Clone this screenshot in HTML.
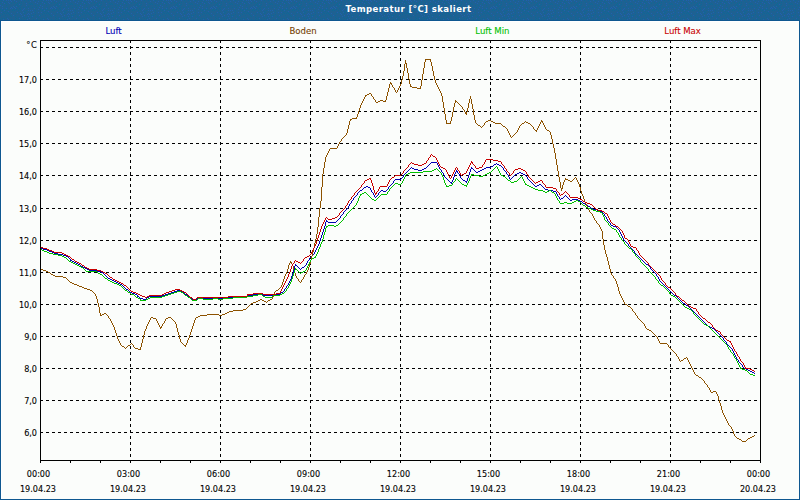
<!DOCTYPE html>
<html><head><meta charset="utf-8"><title>Temperatur [°C] skaliert</title>
<style>
html,body{margin:0;padding:0;width:800px;height:500px;overflow:hidden;background:#fbfdfb}
svg{display:block}
.t{font-family:"DejaVu Sans Condensed","Liberation Sans",sans-serif;font-size:9px;stroke-width:0.1px;paint-order:stroke}
.yl{text-anchor:end}
.xl{text-anchor:middle}
</style></head><body>
<svg width="800" height="500" viewBox="0 0 800 500">
<rect x="0" y="0" width="800" height="500" fill="#fbfdfb"/>
<!-- header -->
<defs><pattern id="dith" x="0" y="0" width="40" height="20" patternUnits="userSpaceOnUse"><rect width="40" height="20" fill="#1e6192"/><rect x="1" y="0" width="1" height="1" fill="#0c6898"/><rect x="3" y="0" width="1" height="1" fill="#2060b0"/><rect x="6" y="0" width="1" height="1" fill="#2060b0"/><rect x="8" y="0" width="1" height="1" fill="#2060b0"/><rect x="10" y="0" width="1" height="1" fill="#2060b0"/><rect x="14" y="0" width="1" height="1" fill="#2060b0"/><rect x="21" y="0" width="1" height="1" fill="#2060b0"/><rect x="24" y="0" width="1" height="1" fill="#0c6898"/><rect x="28" y="0" width="1" height="1" fill="#0c6898"/><rect x="33" y="0" width="1" height="1" fill="#2060b0"/><rect x="35" y="0" width="1" height="1" fill="#0c6898"/><rect x="4" y="1" width="1" height="1" fill="#0c6898"/><rect x="11" y="1" width="1" height="1" fill="#2060b0"/><rect x="16" y="1" width="1" height="1" fill="#2060b0"/><rect x="30" y="1" width="1" height="1" fill="#2060b0"/><rect x="38" y="1" width="1" height="1" fill="#2060b0"/><rect x="0" y="2" width="1" height="1" fill="#0c6898"/><rect x="2" y="2" width="1" height="1" fill="#2060b0"/><rect x="5" y="2" width="1" height="1" fill="#0c6898"/><rect x="8" y="2" width="1" height="1" fill="#2060b0"/><rect x="14" y="2" width="1" height="1" fill="#0c6898"/><rect x="19" y="2" width="1" height="1" fill="#0c6898"/><rect x="21" y="2" width="1" height="1" fill="#0c6898"/><rect x="25" y="2" width="1" height="1" fill="#0c6898"/><rect x="35" y="2" width="1" height="1" fill="#2060b0"/><rect x="4" y="3" width="1" height="1" fill="#2060b0"/><rect x="6" y="3" width="1" height="1" fill="#0c6898"/><rect x="9" y="3" width="1" height="1" fill="#2060b0"/><rect x="11" y="3" width="1" height="1" fill="#0c6898"/><rect x="17" y="3" width="1" height="1" fill="#0c6898"/><rect x="26" y="3" width="1" height="1" fill="#2060b0"/><rect x="29" y="3" width="1" height="1" fill="#0c6898"/><rect x="31" y="3" width="1" height="1" fill="#0c6898"/><rect x="37" y="3" width="1" height="1" fill="#2060b0"/><rect x="2" y="4" width="1" height="1" fill="#0c6898"/><rect x="16" y="4" width="1" height="1" fill="#0c6898"/><rect x="19" y="4" width="1" height="1" fill="#2060b0"/><rect x="21" y="4" width="1" height="1" fill="#0c6898"/><rect x="30" y="4" width="1" height="1" fill="#0c6898"/><rect x="32" y="4" width="1" height="1" fill="#0c6898"/><rect x="0" y="5" width="1" height="1" fill="#2060b0"/><rect x="6" y="5" width="1" height="1" fill="#0c6898"/><rect x="15" y="5" width="1" height="1" fill="#0c6898"/><rect x="17" y="5" width="1" height="1" fill="#0c6898"/><rect x="20" y="5" width="1" height="1" fill="#0c6898"/><rect x="26" y="5" width="1" height="1" fill="#2060b0"/><rect x="35" y="5" width="1" height="1" fill="#0c6898"/><rect x="38" y="5" width="1" height="1" fill="#0c6898"/><rect x="2" y="6" width="1" height="1" fill="#2060b0"/><rect x="13" y="6" width="1" height="1" fill="#2060b0"/><rect x="16" y="6" width="1" height="1" fill="#2060b0"/><rect x="18" y="6" width="1" height="1" fill="#0c6898"/><rect x="28" y="6" width="1" height="1" fill="#0c6898"/><rect x="7" y="7" width="1" height="1" fill="#0c6898"/><rect x="11" y="7" width="1" height="1" fill="#2060b0"/><rect x="14" y="7" width="1" height="1" fill="#2060b0"/><rect x="20" y="7" width="1" height="1" fill="#0c6898"/><rect x="23" y="7" width="1" height="1" fill="#0c6898"/><rect x="26" y="7" width="1" height="1" fill="#0c6898"/><rect x="32" y="7" width="1" height="1" fill="#0c6898"/><rect x="36" y="7" width="1" height="1" fill="#0c6898"/><rect x="39" y="7" width="1" height="1" fill="#2060b0"/><rect x="2" y="8" width="1" height="1" fill="#2060b0"/><rect x="6" y="8" width="1" height="1" fill="#2060b0"/><rect x="10" y="8" width="1" height="1" fill="#2060b0"/><rect x="12" y="8" width="1" height="1" fill="#2060b0"/><rect x="15" y="8" width="1" height="1" fill="#2060b0"/><rect x="19" y="8" width="1" height="1" fill="#0c6898"/><rect x="24" y="8" width="1" height="1" fill="#2060b0"/><rect x="28" y="8" width="1" height="1" fill="#2060b0"/><rect x="34" y="8" width="1" height="1" fill="#2060b0"/><rect x="0" y="9" width="1" height="1" fill="#0c6898"/><rect x="3" y="9" width="1" height="1" fill="#0c6898"/><rect x="5" y="9" width="1" height="1" fill="#0c6898"/><rect x="7" y="9" width="1" height="1" fill="#0c6898"/><rect x="13" y="9" width="1" height="1" fill="#0c6898"/><rect x="16" y="9" width="1" height="1" fill="#0c6898"/><rect x="20" y="9" width="1" height="1" fill="#0c6898"/><rect x="23" y="9" width="1" height="1" fill="#2060b0"/><rect x="38" y="9" width="1" height="1" fill="#2060b0"/><rect x="2" y="10" width="1" height="1" fill="#0c6898"/><rect x="4" y="10" width="1" height="1" fill="#2060b0"/><rect x="9" y="10" width="1" height="1" fill="#0c6898"/><rect x="12" y="10" width="1" height="1" fill="#0c6898"/><rect x="14" y="10" width="1" height="1" fill="#0c6898"/><rect x="18" y="10" width="1" height="1" fill="#0c6898"/><rect x="22" y="10" width="1" height="1" fill="#2060b0"/><rect x="26" y="10" width="1" height="1" fill="#0c6898"/><rect x="28" y="10" width="1" height="1" fill="#2060b0"/><rect x="30" y="10" width="1" height="1" fill="#2060b0"/><rect x="32" y="10" width="1" height="1" fill="#2060b0"/><rect x="35" y="10" width="1" height="1" fill="#0c6898"/><rect x="5" y="11" width="1" height="1" fill="#0c6898"/><rect x="8" y="11" width="1" height="1" fill="#2060b0"/><rect x="24" y="11" width="1" height="1" fill="#0c6898"/><rect x="1" y="12" width="1" height="1" fill="#2060b0"/><rect x="3" y="12" width="1" height="1" fill="#0c6898"/><rect x="7" y="12" width="1" height="1" fill="#0c6898"/><rect x="17" y="12" width="1" height="1" fill="#2060b0"/><rect x="19" y="12" width="1" height="1" fill="#0c6898"/><rect x="23" y="12" width="1" height="1" fill="#2060b0"/><rect x="25" y="12" width="1" height="1" fill="#0c6898"/><rect x="33" y="12" width="1" height="1" fill="#2060b0"/><rect x="35" y="12" width="1" height="1" fill="#0c6898"/><rect x="38" y="12" width="1" height="1" fill="#2060b0"/><rect x="4" y="13" width="1" height="1" fill="#0c6898"/><rect x="6" y="13" width="1" height="1" fill="#0c6898"/><rect x="8" y="13" width="1" height="1" fill="#0c6898"/><rect x="11" y="13" width="1" height="1" fill="#2060b0"/><rect x="16" y="13" width="1" height="1" fill="#0c6898"/><rect x="20" y="13" width="1" height="1" fill="#2060b0"/><rect x="24" y="13" width="1" height="1" fill="#0c6898"/><rect x="28" y="13" width="1" height="1" fill="#2060b0"/><rect x="31" y="13" width="1" height="1" fill="#2060b0"/><rect x="2" y="14" width="1" height="1" fill="#0c6898"/><rect x="9" y="14" width="1" height="1" fill="#0c6898"/><rect x="21" y="14" width="1" height="1" fill="#2060b0"/><rect x="27" y="14" width="1" height="1" fill="#2060b0"/><rect x="29" y="14" width="1" height="1" fill="#2060b0"/><rect x="35" y="14" width="1" height="1" fill="#0c6898"/><rect x="0" y="15" width="1" height="1" fill="#0c6898"/><rect x="5" y="15" width="1" height="1" fill="#0c6898"/><rect x="10" y="15" width="1" height="1" fill="#0c6898"/><rect x="13" y="15" width="1" height="1" fill="#2060b0"/><rect x="15" y="15" width="1" height="1" fill="#0c6898"/><rect x="24" y="15" width="1" height="1" fill="#2060b0"/><rect x="31" y="15" width="1" height="1" fill="#0c6898"/><rect x="33" y="15" width="1" height="1" fill="#0c6898"/><rect x="39" y="15" width="1" height="1" fill="#2060b0"/><rect x="11" y="16" width="1" height="1" fill="#0c6898"/><rect x="22" y="16" width="1" height="1" fill="#2060b0"/><rect x="28" y="16" width="1" height="1" fill="#2060b0"/><rect x="32" y="16" width="1" height="1" fill="#2060b0"/><rect x="37" y="16" width="1" height="1" fill="#0c6898"/><rect x="6" y="17" width="1" height="1" fill="#0c6898"/><rect x="15" y="17" width="1" height="1" fill="#0c6898"/><rect x="18" y="17" width="1" height="1" fill="#0c6898"/><rect x="23" y="17" width="1" height="1" fill="#0c6898"/><rect x="27" y="17" width="1" height="1" fill="#0c6898"/><rect x="31" y="17" width="1" height="1" fill="#0c6898"/><rect x="38" y="17" width="1" height="1" fill="#0c6898"/><rect x="2" y="18" width="1" height="1" fill="#0c6898"/><rect x="4" y="18" width="1" height="1" fill="#0c6898"/><rect x="7" y="18" width="1" height="1" fill="#2060b0"/><rect x="16" y="18" width="1" height="1" fill="#0c6898"/><rect x="19" y="18" width="1" height="1" fill="#2060b0"/><rect x="24" y="18" width="1" height="1" fill="#0c6898"/><rect x="26" y="18" width="1" height="1" fill="#0c6898"/><rect x="29" y="18" width="1" height="1" fill="#2060b0"/><rect x="36" y="18" width="1" height="1" fill="#2060b0"/><rect x="0" y="19" width="1" height="1" fill="#0c6898"/><rect x="3" y="19" width="1" height="1" fill="#2060b0"/><rect x="8" y="19" width="1" height="1" fill="#2060b0"/><rect x="11" y="19" width="1" height="1" fill="#0c6898"/><rect x="15" y="19" width="1" height="1" fill="#0c6898"/><rect x="18" y="19" width="1" height="1" fill="#0c6898"/><rect x="21" y="19" width="1" height="1" fill="#0c6898"/><rect x="27" y="19" width="1" height="1" fill="#2060b0"/><rect x="33" y="19" width="1" height="1" fill="#0c6898"/><rect x="37" y="19" width="1" height="1" fill="#0c6898"/></pattern></defs>
<rect x="0" y="0" width="800" height="20" fill="url(#dith)" shape-rendering="crispEdges"/>
<g shape-rendering="crispEdges">
<rect x="0" y="20" width="800" height="1" fill="#0e5790"/>
<rect x="0" y="20" width="1" height="480" fill="#0e5790"/>
<rect x="799" y="20" width="1" height="480" fill="#0e5790"/>
<rect x="0" y="499" width="800" height="1" fill="#0e5790"/>
<rect x="1" y="21" width="798" height="1" fill="#ffffff"/>
<rect x="1" y="21" width="1" height="478" fill="#ffffff"/>
</g>
<text x="408.5" y="12" fill="#ffffff" text-anchor="middle" style="font-family:'DejaVu Sans Condensed','Liberation Sans',sans-serif;font-size:9.5px;font-weight:bold;letter-spacing:0.4px">Temperatur [°C] skaliert</text>

<!-- legend -->
<g class="t" text-anchor="middle" style="font-size:9.5px">
<text x="113.6" y="34" fill="#0000b4" stroke="#0000b4">Luft</text>
<text x="303" y="34" fill="#744000" stroke="#744000">Boden</text>
<text x="492.4" y="34" fill="#00c000" stroke="#00c000">Luft Min</text>
<text x="682.6" y="34" fill="#c80000" stroke="#c80000">Luft Max</text>
</g>

<!-- grid -->
<g id="grid" stroke="#000" stroke-width="1" shape-rendering="crispEdges" fill="none">
<g stroke-dasharray="3 3">
<path d="M40 47.5H760M40 79.5H760M40 111.5H760M40 143.5H760M40 175.5H760M40 208.5H760M40 240.5H760M40 272.5H760M40 304.5H760M40 336.5H760M40 368.5H760M40 400.5H760M40 432.5H760"/>
<path d="M130.5 40V460M220.5 40V460M310.5 40V460M400.5 40V460M490.5 40V460M580.5 40V460M670.5 40V460"/>
</g>
<rect x="40.5" y="40.5" width="720" height="420"/>
<path id="ticks" d="M40.5 461V463M70.5 461V463M100.5 461V463M130.5 461V463M160.5 461V463M190.5 461V463M220.5 461V463M250.5 461V463M280.5 461V463M310.5 461V463M340.5 461V463M370.5 461V463M400.5 461V463M430.5 461V463M460.5 461V463M490.5 461V463M520.5 461V463M550.5 461V463M580.5 461V463M610.5 461V463M640.5 461V463M670.5 461V463M700.5 461V463M730.5 461V463M760.5 461V463"/>
</g>

<!-- y labels -->
<g class="t yl" fill="#000" stroke="#000">
<text x="37.6" y="48" style="font-size:9.2px;letter-spacing:0.7px">°C</text>
<text x="37" y="83">17,0</text>
<text x="37" y="115">16,0</text>
<text x="37" y="147">15,0</text>
<text x="37" y="179">14,0</text>
<text x="37" y="212">13,0</text>
<text x="37" y="244">12,0</text>
<text x="37" y="276">11,0</text>
<text x="37" y="308">10,0</text>
<text x="37" y="340">9,0</text>
<text x="37" y="372">8,0</text>
<text x="37" y="404">7,0</text>
<text x="37" y="436">6,0</text>
</g>

<!-- x labels -->
<g class="t xl" fill="#000" stroke="#000">
<text x="38.5" y="477">00:00</text><text x="38" y="492">19.04.23</text>
<text x="128.5" y="477">03:00</text><text x="128" y="492">19.04.23</text>
<text x="218.5" y="477">06:00</text><text x="218" y="492">19.04.23</text>
<text x="308.5" y="477">09:00</text><text x="308" y="492">19.04.23</text>
<text x="398.5" y="477">12:00</text><text x="398" y="492">19.04.23</text>
<text x="488.5" y="477">15:00</text><text x="488" y="492">19.04.23</text>
<text x="578.5" y="477">18:00</text><text x="578" y="492">19.04.23</text>
<text x="668.5" y="477">21:00</text><text x="668" y="492">19.04.23</text>
<text x="758.5" y="477">00:00</text><text x="758" y="492">20.04.23</text>
</g>

<!-- data -->
<g shape-rendering="crispEdges">
<path id="luft" fill="#0000b4" d="M431 162h6v1h-6zM430 163h1v1h-1zM437 163h1v1h-1zM496 163h1v1h-1zM429 164h1v1h-1zM437 164h1v1h-1zM494 164h2v1h-2zM497 164h2v1h-2zM428 165h1v1h-1zM438 165h1v1h-1zM493 165h1v1h-1zM499 165h2v1h-2zM427 166h1v1h-1zM438 166h1v1h-1zM491 166h2v1h-2zM501 166h1v1h-1zM411 167h1v1h-1zM426 167h1v1h-1zM439 167h1v1h-1zM471 167h1v1h-1zM486 167h5v1h-5zM502 167h1v1h-1zM410 168h1v1h-1zM412 168h2v1h-2zM424 168h2v1h-2zM439 168h1v1h-1zM471 168h2v1h-2zM484 168h2v1h-2zM503 168h1v1h-1zM409 169h1v1h-1zM414 169h4v1h-4zM422 169h2v1h-2zM440 169h1v1h-1zM470 169h1v1h-1zM473 169h1v1h-1zM482 169h2v1h-2zM503 169h1v1h-1zM408 170h1v1h-1zM418 170h4v1h-4zM441 170h1v1h-1zM456 170h1v1h-1zM470 170h1v1h-1zM474 170h1v1h-1zM480 170h2v1h-2zM504 170h1v1h-1zM407 171h1v1h-1zM441 171h1v1h-1zM456 171h2v1h-2zM470 171h1v1h-1zM475 171h1v1h-1zM478 171h2v1h-2zM505 171h1v1h-1zM406 172h1v1h-1zM442 172h1v1h-1zM455 172h1v1h-1zM457 172h1v1h-1zM469 172h1v1h-1zM476 172h2v1h-2zM506 172h1v1h-1zM519 172h2v1h-2zM405 173h1v1h-1zM443 173h1v1h-1zM455 173h1v1h-1zM458 173h1v1h-1zM469 173h1v1h-1zM506 173h1v1h-1zM517 173h2v1h-2zM521 173h2v1h-2zM404 174h1v1h-1zM443 174h1v1h-1zM454 174h1v1h-1zM459 174h1v1h-1zM469 174h1v1h-1zM507 174h1v1h-1zM515 174h2v1h-2zM523 174h2v1h-2zM403 175h1v1h-1zM444 175h1v1h-1zM454 175h1v1h-1zM459 175h1v1h-1zM468 175h1v1h-1zM508 175h1v1h-1zM514 175h1v1h-1zM525 175h1v1h-1zM403 176h1v1h-1zM444 176h1v1h-1zM454 176h1v1h-1zM460 176h1v1h-1zM468 176h1v1h-1zM508 176h1v1h-1zM513 176h1v1h-1zM526 176h1v1h-1zM402 177h1v1h-1zM445 177h1v1h-1zM453 177h1v1h-1zM460 177h1v1h-1zM468 177h1v1h-1zM509 177h1v1h-1zM512 177h1v1h-1zM527 177h1v1h-1zM401 178h1v1h-1zM446 178h1v1h-1zM453 178h1v1h-1zM461 178h1v1h-1zM467 178h1v1h-1zM509 178h1v1h-1zM511 178h1v1h-1zM527 178h1v1h-1zM395 179h6v1h-6zM447 179h1v1h-1zM453 179h1v1h-1zM462 179h1v1h-1zM467 179h1v1h-1zM510 179h1v1h-1zM528 179h1v1h-1zM394 180h1v1h-1zM448 180h1v1h-1zM452 180h1v1h-1zM463 180h2v1h-2zM467 180h1v1h-1zM529 180h1v1h-1zM393 181h1v1h-1zM449 181h1v1h-1zM452 181h1v1h-1zM465 181h2v1h-2zM530 181h1v1h-1zM393 182h1v1h-1zM450 182h2v1h-2zM466 182h1v1h-1zM531 182h1v1h-1zM392 183h1v1h-1zM451 183h1v1h-1zM532 183h1v1h-1zM391 184h1v1h-1zM533 184h1v1h-1zM539 184h2v1h-2zM390 185h1v1h-1zM534 185h1v1h-1zM537 185h2v1h-2zM541 185h1v1h-1zM366 186h2v1h-2zM389 186h1v1h-1zM535 186h2v1h-2zM542 186h1v1h-1zM364 187h2v1h-2zM368 187h2v1h-2zM388 187h1v1h-1zM543 187h1v1h-1zM363 188h1v1h-1zM370 188h1v1h-1zM388 188h1v1h-1zM544 188h1v1h-1zM362 189h1v1h-1zM370 189h1v1h-1zM387 189h1v1h-1zM545 189h3v1h-3zM360 190h2v1h-2zM371 190h1v1h-1zM381 190h2v1h-2zM386 190h1v1h-1zM548 190h5v1h-5zM359 191h1v1h-1zM371 191h1v1h-1zM380 191h1v1h-1zM383 191h3v1h-3zM553 191h3v1h-3zM358 192h1v1h-1zM372 192h1v1h-1zM379 192h1v1h-1zM556 192h1v1h-1zM357 193h1v1h-1zM373 193h1v1h-1zM378 193h1v1h-1zM556 193h1v1h-1zM357 194h1v1h-1zM373 194h1v1h-1zM378 194h1v1h-1zM557 194h1v1h-1zM356 195h1v1h-1zM374 195h1v1h-1zM377 195h1v1h-1zM557 195h1v1h-1zM565 195h1v1h-1zM355 196h1v1h-1zM374 196h1v1h-1zM376 196h1v1h-1zM558 196h1v1h-1zM564 196h1v1h-1zM566 196h1v1h-1zM354 197h1v1h-1zM375 197h1v1h-1zM559 197h1v1h-1zM563 197h1v1h-1zM567 197h1v1h-1zM353 198h1v1h-1zM559 198h1v1h-1zM561 198h2v1h-2zM568 198h1v1h-1zM353 199h1v1h-1zM560 199h1v1h-1zM569 199h1v1h-1zM572 199h6v1h-6zM352 200h1v1h-1zM570 200h2v1h-2zM578 200h2v1h-2zM351 201h1v1h-1zM580 201h2v1h-2zM351 202h1v1h-1zM582 202h1v1h-1zM350 203h1v1h-1zM583 203h2v1h-2zM349 204h1v1h-1zM585 204h1v1h-1zM349 205h1v1h-1zM586 205h2v1h-2zM348 206h1v1h-1zM588 206h2v1h-2zM348 207h1v1h-1zM590 207h1v1h-1zM347 208h1v1h-1zM591 208h2v1h-2zM346 209h1v1h-1zM593 209h4v1h-4zM345 210h1v1h-1zM597 210h3v1h-3zM344 211h1v1h-1zM600 211h2v1h-2zM343 212h1v1h-1zM602 212h1v1h-1zM343 213h1v1h-1zM603 213h1v1h-1zM342 214h1v1h-1zM604 214h1v1h-1zM341 215h1v1h-1zM604 215h1v1h-1zM340 216h1v1h-1zM605 216h1v1h-1zM340 217h1v1h-1zM606 217h1v1h-1zM339 218h1v1h-1zM606 218h1v1h-1zM338 219h1v1h-1zM607 219h1v1h-1zM326 220h1v1h-1zM337 220h1v1h-1zM607 220h1v1h-1zM326 221h2v1h-2zM336 221h1v1h-1zM608 221h1v1h-1zM325 222h1v1h-1zM328 222h8v1h-8zM609 222h1v1h-1zM325 223h1v1h-1zM610 223h1v1h-1zM325 224h1v1h-1zM610 224h1v1h-1zM325 225h1v1h-1zM611 225h2v1h-2zM324 226h1v1h-1zM613 226h3v1h-3zM324 227h1v1h-1zM616 227h1v1h-1zM324 228h1v1h-1zM617 228h1v1h-1zM323 229h1v1h-1zM618 229h1v1h-1zM323 230h1v1h-1zM619 230h1v1h-1zM323 231h1v1h-1zM619 231h1v1h-1zM322 232h1v1h-1zM620 232h1v1h-1zM322 233h1v1h-1zM620 233h1v1h-1zM322 234h1v1h-1zM621 234h1v1h-1zM321 235h1v1h-1zM621 235h1v1h-1zM321 236h1v1h-1zM622 236h1v1h-1zM321 237h1v1h-1zM622 237h1v1h-1zM320 238h1v1h-1zM623 238h1v1h-1zM320 239h1v1h-1zM623 239h1v1h-1zM320 240h1v1h-1zM624 240h1v1h-1zM319 241h1v1h-1zM625 241h1v1h-1zM319 242h1v1h-1zM626 242h1v1h-1zM319 243h1v1h-1zM627 243h1v1h-1zM318 244h1v1h-1zM628 244h1v1h-1zM318 245h1v1h-1zM628 245h1v1h-1zM317 246h1v1h-1zM629 246h1v1h-1zM317 247h1v1h-1zM630 247h1v1h-1zM41 248h2v1h-2zM316 248h1v1h-1zM631 248h1v1h-1zM43 249h4v1h-4zM316 249h1v1h-1zM632 249h1v1h-1zM47 250h2v1h-2zM315 250h1v1h-1zM633 250h1v1h-1zM49 251h3v1h-3zM315 251h1v1h-1zM634 251h1v1h-1zM52 252h2v1h-2zM314 252h1v1h-1zM634 252h1v1h-1zM54 253h4v1h-4zM314 253h1v1h-1zM635 253h1v1h-1zM58 254h5v1h-5zM313 254h1v1h-1zM636 254h1v1h-1zM63 255h3v1h-3zM312 255h1v1h-1zM637 255h1v1h-1zM66 256h2v1h-2zM311 256h1v1h-1zM638 256h1v1h-1zM68 257h1v1h-1zM310 257h1v1h-1zM639 257h1v1h-1zM69 258h1v1h-1zM309 258h1v1h-1zM640 258h1v1h-1zM70 259h1v1h-1zM309 259h1v1h-1zM641 259h1v1h-1zM70 260h2v1h-2zM308 260h1v1h-1zM642 260h1v1h-1zM72 261h2v1h-2zM307 261h1v1h-1zM643 261h1v1h-1zM74 262h2v1h-2zM307 262h1v1h-1zM644 262h1v1h-1zM76 263h2v1h-2zM306 263h1v1h-1zM645 263h1v1h-1zM78 264h2v1h-2zM295 264h1v1h-1zM306 264h1v1h-1zM646 264h2v1h-2zM80 265h1v1h-1zM295 265h2v1h-2zM305 265h1v1h-1zM648 265h1v1h-1zM81 266h2v1h-2zM294 266h1v1h-1zM297 266h1v1h-1zM304 266h1v1h-1zM649 266h1v1h-1zM83 267h2v1h-2zM294 267h1v1h-1zM298 267h1v1h-1zM302 267h2v1h-2zM650 267h1v1h-1zM85 268h2v1h-2zM294 268h1v1h-1zM299 268h1v1h-1zM301 268h1v1h-1zM650 268h1v1h-1zM87 269h2v1h-2zM294 269h1v1h-1zM300 269h1v1h-1zM651 269h1v1h-1zM89 270h8v1h-8zM293 270h1v1h-1zM652 270h1v1h-1zM97 271h4v1h-4zM293 271h1v1h-1zM653 271h1v1h-1zM101 272h2v1h-2zM293 272h1v1h-1zM654 272h1v1h-1zM103 273h1v1h-1zM292 273h1v1h-1zM655 273h1v1h-1zM104 274h1v1h-1zM292 274h1v1h-1zM656 274h1v1h-1zM105 275h1v1h-1zM292 275h1v1h-1zM656 275h1v1h-1zM106 276h1v1h-1zM291 276h1v1h-1zM657 276h1v1h-1zM107 277h1v1h-1zM291 277h1v1h-1zM658 277h1v1h-1zM108 278h2v1h-2zM291 278h1v1h-1zM658 278h1v1h-1zM110 279h2v1h-2zM290 279h1v1h-1zM659 279h1v1h-1zM112 280h2v1h-2zM290 280h1v1h-1zM659 280h1v1h-1zM114 281h2v1h-2zM289 281h1v1h-1zM660 281h1v1h-1zM116 282h2v1h-2zM289 282h1v1h-1zM661 282h1v1h-1zM118 283h2v1h-2zM288 283h1v1h-1zM662 283h1v1h-1zM120 284h2v1h-2zM288 284h1v1h-1zM663 284h1v1h-1zM122 285h1v1h-1zM287 285h1v1h-1zM664 285h1v1h-1zM123 286h1v1h-1zM286 286h1v1h-1zM665 286h1v1h-1zM124 287h1v1h-1zM286 287h1v1h-1zM666 287h1v1h-1zM125 288h1v1h-1zM285 288h1v1h-1zM667 288h1v1h-1zM126 289h2v1h-2zM284 289h1v1h-1zM668 289h1v1h-1zM128 290h1v1h-1zM177 290h4v1h-4zM284 290h1v1h-1zM669 290h1v1h-1zM129 291h1v1h-1zM174 291h3v1h-3zM181 291h2v1h-2zM283 291h1v1h-1zM670 291h1v1h-1zM130 292h2v1h-2zM171 292h3v1h-3zM183 292h1v1h-1zM281 292h2v1h-2zM671 292h1v1h-1zM132 293h3v1h-3zM168 293h3v1h-3zM184 293h1v1h-1zM280 293h1v1h-1zM672 293h1v1h-1zM135 294h2v1h-2zM165 294h3v1h-3zM185 294h2v1h-2zM253 294h10v1h-10zM273 294h7v1h-7zM673 294h1v1h-1zM137 295h1v1h-1zM162 295h3v1h-3zM187 295h1v1h-1zM247 295h6v1h-6zM263 295h10v1h-10zM674 295h2v1h-2zM137 296h2v1h-2zM149 296h13v1h-13zM188 296h2v1h-2zM234 296h13v1h-13zM676 296h1v1h-1zM139 297h1v1h-1zM147 297h2v1h-2zM190 297h1v1h-1zM228 297h6v1h-6zM677 297h1v1h-1zM140 298h3v1h-3zM146 298h1v1h-1zM191 298h1v1h-1zM197 298h31v1h-31zM678 298h1v1h-1zM143 299h3v1h-3zM192 299h5v1h-5zM679 299h1v1h-1zM680 300h1v1h-1zM681 301h1v1h-1zM682 302h1v1h-1zM683 303h2v1h-2zM685 304h1v1h-1zM686 305h2v1h-2zM688 306h1v1h-1zM689 307h1v1h-1zM690 308h1v1h-1zM691 309h1v1h-1zM692 310h1v1h-1zM693 311h1v1h-1zM694 312h1v1h-1zM695 313h1v1h-1zM696 314h1v1h-1zM697 315h1v1h-1zM698 316h1v1h-1zM699 317h1v1h-1zM700 318h1v1h-1zM701 319h1v1h-1zM702 320h1v1h-1zM703 321h1v1h-1zM704 322h1v1h-1zM705 323h1v1h-1zM706 324h1v1h-1zM707 325h1v1h-1zM708 326h2v1h-2zM710 327h2v1h-2zM712 328h2v1h-2zM714 329h1v1h-1zM715 330h1v1h-1zM716 331h1v1h-1zM717 332h1v1h-1zM718 333h1v1h-1zM719 334h1v1h-1zM720 335h1v1h-1zM721 336h1v1h-1zM722 337h1v1h-1zM723 338h1v1h-1zM723 339h1v1h-1zM724 340h1v1h-1zM725 341h1v1h-1zM726 342h1v1h-1zM726 343h1v1h-1zM727 344h1v1h-1zM728 345h1v1h-1zM729 346h1v1h-1zM730 347h1v1h-1zM731 348h1v1h-1zM732 349h1v1h-1zM732 350h1v1h-1zM733 351h1v1h-1zM733 352h1v1h-1zM734 353h1v1h-1zM734 354h1v1h-1zM735 355h1v1h-1zM735 356h1v1h-1zM736 357h1v1h-1zM736 358h1v1h-1zM737 359h1v1h-1zM738 360h1v1h-1zM738 361h1v1h-1zM739 362h1v1h-1zM740 363h1v1h-1zM741 364h1v1h-1zM742 365h1v1h-1zM742 366h1v1h-1zM743 367h1v1h-1zM744 368h2v1h-2zM746 369h2v1h-2zM748 370h2v1h-2zM750 371h2v1h-2zM752 372h2v1h-2zM754 373h1v1h-1z"/>
<path id="boden" fill="#8c5200" d="M425 59h6v1h-6zM405 60h1v1h-1zM425 60h1v1h-1zM430 60h1v1h-1zM405 61h1v1h-1zM425 61h1v1h-1zM430 61h1v1h-1zM405 62h1v1h-1zM424 62h1v1h-1zM431 62h1v1h-1zM405 63h2v1h-2zM424 63h1v1h-1zM431 63h1v1h-1zM404 64h1v1h-1zM406 64h1v1h-1zM424 64h1v1h-1zM431 64h1v1h-1zM404 65h1v1h-1zM406 65h1v1h-1zM424 65h1v1h-1zM431 65h1v1h-1zM404 66h1v1h-1zM406 66h1v1h-1zM424 66h1v1h-1zM432 66h1v1h-1zM404 67h1v1h-1zM406 67h1v1h-1zM424 67h1v1h-1zM432 67h1v1h-1zM404 68h1v1h-1zM407 68h1v1h-1zM423 68h1v1h-1zM432 68h1v1h-1zM404 69h1v1h-1zM407 69h1v1h-1zM423 69h1v1h-1zM432 69h1v1h-1zM404 70h1v1h-1zM407 70h1v1h-1zM423 70h1v1h-1zM432 70h1v1h-1zM403 71h1v1h-1zM407 71h1v1h-1zM423 71h1v1h-1zM433 71h1v1h-1zM403 72h1v1h-1zM407 72h1v1h-1zM423 72h1v1h-1zM433 72h1v1h-1zM403 73h1v1h-1zM408 73h1v1h-1zM423 73h1v1h-1zM433 73h1v1h-1zM403 74h1v1h-1zM408 74h1v1h-1zM422 74h1v1h-1zM433 74h1v1h-1zM403 75h1v1h-1zM408 75h1v1h-1zM422 75h1v1h-1zM433 75h1v1h-1zM402 76h1v1h-1zM408 76h1v1h-1zM422 76h1v1h-1zM434 76h1v1h-1zM402 77h1v1h-1zM408 77h1v1h-1zM422 77h1v1h-1zM434 77h1v1h-1zM402 78h1v1h-1zM408 78h1v1h-1zM422 78h1v1h-1zM434 78h1v1h-1zM402 79h1v1h-1zM409 79h1v1h-1zM422 79h1v1h-1zM434 79h1v1h-1zM401 80h1v1h-1zM409 80h1v1h-1zM421 80h1v1h-1zM435 80h1v1h-1zM401 81h1v1h-1zM409 81h1v1h-1zM421 81h1v1h-1zM435 81h1v1h-1zM390 82h1v1h-1zM401 82h1v1h-1zM409 82h1v1h-1zM421 82h1v1h-1zM435 82h1v1h-1zM390 83h2v1h-2zM401 83h1v1h-1zM409 83h1v1h-1zM421 83h1v1h-1zM436 83h1v1h-1zM389 84h1v1h-1zM391 84h1v1h-1zM400 84h1v1h-1zM410 84h1v1h-1zM421 84h1v1h-1zM436 84h1v1h-1zM389 85h1v1h-1zM392 85h1v1h-1zM400 85h1v1h-1zM410 85h1v1h-1zM421 85h1v1h-1zM437 85h1v1h-1zM389 86h1v1h-1zM392 86h1v1h-1zM399 86h1v1h-1zM410 86h2v1h-2zM420 86h1v1h-1zM437 86h1v1h-1zM389 87h1v1h-1zM393 87h1v1h-1zM399 87h1v1h-1zM412 87h5v1h-5zM420 87h1v1h-1zM438 87h1v1h-1zM388 88h1v1h-1zM394 88h1v1h-1zM398 88h1v1h-1zM417 88h4v1h-4zM438 88h1v1h-1zM388 89h1v1h-1zM394 89h1v1h-1zM398 89h1v1h-1zM439 89h1v1h-1zM388 90h1v1h-1zM395 90h1v1h-1zM397 90h1v1h-1zM439 90h1v1h-1zM388 91h1v1h-1zM395 91h1v1h-1zM397 91h1v1h-1zM440 91h1v1h-1zM387 92h1v1h-1zM396 92h1v1h-1zM440 92h1v1h-1zM369 93h2v1h-2zM387 93h1v1h-1zM441 93h1v1h-1zM367 94h2v1h-2zM371 94h1v1h-1zM387 94h1v1h-1zM441 94h1v1h-1zM365 95h2v1h-2zM371 95h1v1h-1zM387 95h1v1h-1zM441 95h1v1h-1zM365 96h1v1h-1zM372 96h1v1h-1zM386 96h1v1h-1zM442 96h1v1h-1zM470 96h1v1h-1zM364 97h1v1h-1zM373 97h1v1h-1zM386 97h1v1h-1zM442 97h1v1h-1zM470 97h1v1h-1zM364 98h1v1h-1zM373 98h1v1h-1zM386 98h1v1h-1zM442 98h1v1h-1zM470 98h1v1h-1zM363 99h1v1h-1zM374 99h1v1h-1zM386 99h1v1h-1zM442 99h1v1h-1zM469 99h1v1h-1zM471 99h1v1h-1zM363 100h1v1h-1zM375 100h1v1h-1zM380 100h3v1h-3zM385 100h1v1h-1zM442 100h1v1h-1zM455 100h1v1h-1zM469 100h1v1h-1zM471 100h1v1h-1zM362 101h1v1h-1zM375 101h1v1h-1zM378 101h2v1h-2zM383 101h3v1h-3zM442 101h1v1h-1zM455 101h2v1h-2zM469 101h1v1h-1zM471 101h1v1h-1zM362 102h1v1h-1zM376 102h2v1h-2zM443 102h1v1h-1zM455 102h1v1h-1zM457 102h1v1h-1zM469 102h1v1h-1zM471 102h1v1h-1zM361 103h1v1h-1zM443 103h1v1h-1zM454 103h1v1h-1zM458 103h1v1h-1zM468 103h1v1h-1zM471 103h1v1h-1zM361 104h1v1h-1zM443 104h1v1h-1zM454 104h1v1h-1zM459 104h1v1h-1zM468 104h1v1h-1zM472 104h1v1h-1zM360 105h1v1h-1zM443 105h1v1h-1zM454 105h1v1h-1zM460 105h1v1h-1zM468 105h1v1h-1zM472 105h1v1h-1zM360 106h1v1h-1zM443 106h1v1h-1zM454 106h1v1h-1zM461 106h1v1h-1zM468 106h1v1h-1zM472 106h1v1h-1zM360 107h1v1h-1zM443 107h1v1h-1zM453 107h1v1h-1zM462 107h1v1h-1zM468 107h1v1h-1zM472 107h1v1h-1zM359 108h1v1h-1zM444 108h1v1h-1zM453 108h1v1h-1zM462 108h1v1h-1zM467 108h1v1h-1zM472 108h1v1h-1zM359 109h1v1h-1zM444 109h1v1h-1zM453 109h1v1h-1zM463 109h1v1h-1zM467 109h1v1h-1zM473 109h1v1h-1zM359 110h1v1h-1zM444 110h1v1h-1zM453 110h1v1h-1zM464 110h1v1h-1zM467 110h1v1h-1zM473 110h1v1h-1zM358 111h1v1h-1zM444 111h1v1h-1zM453 111h1v1h-1zM464 111h1v1h-1zM467 111h1v1h-1zM473 111h1v1h-1zM358 112h1v1h-1zM444 112h1v1h-1zM452 112h1v1h-1zM465 112h2v1h-2zM473 112h1v1h-1zM358 113h1v1h-1zM444 113h1v1h-1zM452 113h1v1h-1zM465 113h2v1h-2zM473 113h1v1h-1zM357 114h1v1h-1zM445 114h1v1h-1zM452 114h1v1h-1zM466 114h1v1h-1zM473 114h1v1h-1zM357 115h1v1h-1zM445 115h1v1h-1zM452 115h1v1h-1zM474 115h1v1h-1zM357 116h1v1h-1zM445 116h1v1h-1zM452 116h1v1h-1zM474 116h1v1h-1zM356 117h1v1h-1zM445 117h1v1h-1zM451 117h1v1h-1zM474 117h1v1h-1zM352 118h5v1h-5zM445 118h1v1h-1zM451 118h1v1h-1zM474 118h1v1h-1zM350 119h2v1h-2zM445 119h1v1h-1zM451 119h1v1h-1zM474 119h1v1h-1zM350 120h1v1h-1zM446 120h1v1h-1zM451 120h1v1h-1zM475 120h1v1h-1zM488 120h3v1h-3zM541 120h1v1h-1zM349 121h1v1h-1zM446 121h1v1h-1zM450 121h1v1h-1zM475 121h1v1h-1zM486 121h2v1h-2zM491 121h2v1h-2zM525 121h1v1h-1zM541 121h2v1h-2zM349 122h1v1h-1zM446 122h1v1h-1zM450 122h1v1h-1zM475 122h1v1h-1zM485 122h1v1h-1zM493 122h2v1h-2zM524 122h1v1h-1zM526 122h2v1h-2zM540 122h1v1h-1zM542 122h1v1h-1zM349 123h1v1h-1zM446 123h5v1h-5zM476 123h1v1h-1zM484 123h1v1h-1zM495 123h6v1h-6zM522 123h2v1h-2zM528 123h2v1h-2zM540 123h1v1h-1zM543 123h1v1h-1zM349 124h1v1h-1zM477 124h1v1h-1zM484 124h1v1h-1zM501 124h1v1h-1zM521 124h1v1h-1zM530 124h1v1h-1zM539 124h1v1h-1zM543 124h1v1h-1zM348 125h1v1h-1zM478 125h2v1h-2zM483 125h1v1h-1zM502 125h1v1h-1zM520 125h1v1h-1zM531 125h1v1h-1zM539 125h1v1h-1zM544 125h1v1h-1zM348 126h1v1h-1zM480 126h1v1h-1zM482 126h1v1h-1zM503 126h2v1h-2zM519 126h1v1h-1zM532 126h1v1h-1zM538 126h1v1h-1zM544 126h1v1h-1zM348 127h1v1h-1zM481 127h1v1h-1zM505 127h1v1h-1zM519 127h1v1h-1zM533 127h1v1h-1zM538 127h1v1h-1zM545 127h1v1h-1zM348 128h1v1h-1zM506 128h1v1h-1zM518 128h1v1h-1zM533 128h1v1h-1zM537 128h1v1h-1zM545 128h1v1h-1zM347 129h1v1h-1zM507 129h1v1h-1zM518 129h1v1h-1zM534 129h1v1h-1zM537 129h1v1h-1zM546 129h1v1h-1zM347 130h1v1h-1zM507 130h1v1h-1zM517 130h1v1h-1zM535 130h2v1h-2zM547 130h2v1h-2zM347 131h1v1h-1zM508 131h1v1h-1zM517 131h1v1h-1zM536 131h1v1h-1zM549 131h1v1h-1zM347 132h1v1h-1zM508 132h1v1h-1zM516 132h1v1h-1zM550 132h1v1h-1zM346 133h1v1h-1zM509 133h1v1h-1zM515 133h1v1h-1zM550 133h1v1h-1zM346 134h1v1h-1zM509 134h1v1h-1zM514 134h1v1h-1zM550 134h1v1h-1zM345 135h1v1h-1zM510 135h1v1h-1zM513 135h1v1h-1zM551 135h1v1h-1zM344 136h1v1h-1zM510 136h1v1h-1zM512 136h1v1h-1zM551 136h1v1h-1zM343 137h1v1h-1zM511 137h1v1h-1zM551 137h1v1h-1zM342 138h1v1h-1zM551 138h1v1h-1zM341 139h1v1h-1zM552 139h1v1h-1zM341 140h1v1h-1zM552 140h1v1h-1zM340 141h1v1h-1zM552 141h1v1h-1zM339 142h1v1h-1zM552 142h1v1h-1zM339 143h1v1h-1zM552 143h1v1h-1zM338 144h1v1h-1zM553 144h1v1h-1zM338 145h1v1h-1zM553 145h1v1h-1zM337 146h1v1h-1zM553 146h1v1h-1zM337 147h1v1h-1zM553 147h1v1h-1zM330 148h7v1h-7zM554 148h1v1h-1zM329 149h1v1h-1zM554 149h1v1h-1zM329 150h1v1h-1zM554 150h1v1h-1zM328 151h1v1h-1zM554 151h1v1h-1zM328 152h1v1h-1zM554 152h1v1h-1zM327 153h1v1h-1zM555 153h1v1h-1zM327 154h1v1h-1zM555 154h1v1h-1zM326 155h1v1h-1zM555 155h1v1h-1zM326 156h1v1h-1zM555 156h1v1h-1zM325 157h1v1h-1zM555 157h1v1h-1zM325 158h1v1h-1zM555 158h1v1h-1zM325 159h1v1h-1zM556 159h1v1h-1zM325 160h1v1h-1zM556 160h1v1h-1zM325 161h1v1h-1zM556 161h1v1h-1zM324 162h1v1h-1zM556 162h1v1h-1zM324 163h1v1h-1zM556 163h1v1h-1zM324 164h1v1h-1zM556 164h1v1h-1zM324 165h1v1h-1zM557 165h1v1h-1zM324 166h1v1h-1zM557 166h1v1h-1zM324 167h1v1h-1zM557 167h1v1h-1zM323 168h1v1h-1zM557 168h1v1h-1zM323 169h1v1h-1zM557 169h1v1h-1zM323 170h1v1h-1zM557 170h1v1h-1zM323 171h1v1h-1zM558 171h1v1h-1zM323 172h1v1h-1zM558 172h1v1h-1zM323 173h1v1h-1zM558 173h1v1h-1zM322 174h1v1h-1zM558 174h1v1h-1zM322 175h1v1h-1zM558 175h1v1h-1zM322 176h1v1h-1zM558 176h1v1h-1zM322 177h1v1h-1zM559 177h1v1h-1zM575 177h1v1h-1zM322 178h1v1h-1zM559 178h1v1h-1zM565 178h1v1h-1zM574 178h1v1h-1zM576 178h1v1h-1zM322 179h1v1h-1zM559 179h1v1h-1zM565 179h3v1h-3zM573 179h1v1h-1zM576 179h1v1h-1zM322 180h1v1h-1zM559 180h1v1h-1zM564 180h1v1h-1zM568 180h2v1h-2zM572 180h1v1h-1zM577 180h1v1h-1zM322 181h1v1h-1zM559 181h1v1h-1zM564 181h1v1h-1zM570 181h2v1h-2zM577 181h1v1h-1zM322 182h1v1h-1zM560 182h1v1h-1zM563 182h1v1h-1zM578 182h1v1h-1zM322 183h1v1h-1zM560 183h1v1h-1zM563 183h1v1h-1zM578 183h1v1h-1zM322 184h1v1h-1zM560 184h1v1h-1zM563 184h1v1h-1zM579 184h1v1h-1zM322 185h1v1h-1zM560 185h1v1h-1zM562 185h1v1h-1zM579 185h1v1h-1zM322 186h1v1h-1zM560 186h1v1h-1zM562 186h1v1h-1zM579 186h1v1h-1zM321 187h1v1h-1zM560 187h1v1h-1zM562 187h1v1h-1zM580 187h1v1h-1zM321 188h1v1h-1zM561 188h2v1h-2zM580 188h1v1h-1zM321 189h1v1h-1zM561 189h1v1h-1zM580 189h1v1h-1zM321 190h1v1h-1zM561 190h1v1h-1zM580 190h1v1h-1zM321 191h1v1h-1zM581 191h1v1h-1zM321 192h1v1h-1zM581 192h1v1h-1zM321 193h1v1h-1zM581 193h1v1h-1zM321 194h1v1h-1zM582 194h1v1h-1zM321 195h1v1h-1zM582 195h1v1h-1zM321 196h1v1h-1zM583 196h1v1h-1zM321 197h1v1h-1zM583 197h1v1h-1zM321 198h1v1h-1zM583 198h1v1h-1zM321 199h1v1h-1zM584 199h1v1h-1zM321 200h1v1h-1zM584 200h1v1h-1zM320 201h1v1h-1zM584 201h1v1h-1zM320 202h1v1h-1zM585 202h1v1h-1zM320 203h1v1h-1zM585 203h1v1h-1zM320 204h1v1h-1zM586 204h1v1h-1zM320 205h1v1h-1zM586 205h1v1h-1zM320 206h1v1h-1zM587 206h1v1h-1zM320 207h1v1h-1zM587 207h1v1h-1zM319 208h1v1h-1zM588 208h1v1h-1zM319 209h1v1h-1zM588 209h1v1h-1zM319 210h1v1h-1zM589 210h1v1h-1zM319 211h1v1h-1zM589 211h1v1h-1zM319 212h1v1h-1zM590 212h1v1h-1zM319 213h1v1h-1zM591 213h1v1h-1zM319 214h1v1h-1zM592 214h1v1h-1zM319 215h1v1h-1zM592 215h1v1h-1zM319 216h1v1h-1zM593 216h1v1h-1zM318 217h1v1h-1zM593 217h1v1h-1zM318 218h1v1h-1zM594 218h1v1h-1zM318 219h1v1h-1zM594 219h1v1h-1zM318 220h1v1h-1zM595 220h1v1h-1zM318 221h1v1h-1zM596 221h1v1h-1zM318 222h1v1h-1zM596 222h1v1h-1zM318 223h1v1h-1zM597 223h1v1h-1zM318 224h1v1h-1zM598 224h1v1h-1zM318 225h1v1h-1zM599 225h1v1h-1zM318 226h1v1h-1zM599 226h1v1h-1zM317 227h1v1h-1zM600 227h1v1h-1zM317 228h1v1h-1zM600 228h1v1h-1zM317 229h1v1h-1zM601 229h1v1h-1zM317 230h1v1h-1zM601 230h1v1h-1zM317 231h1v1h-1zM602 231h1v1h-1zM317 232h1v1h-1zM602 232h1v1h-1zM317 233h1v1h-1zM602 233h1v1h-1zM316 234h1v1h-1zM602 234h1v1h-1zM316 235h1v1h-1zM602 235h1v1h-1zM316 236h1v1h-1zM602 236h1v1h-1zM316 237h1v1h-1zM602 237h1v1h-1zM316 238h1v1h-1zM602 238h1v1h-1zM315 239h1v1h-1zM603 239h1v1h-1zM315 240h1v1h-1zM603 240h1v1h-1zM315 241h1v1h-1zM603 241h1v1h-1zM315 242h1v1h-1zM603 242h1v1h-1zM314 243h1v1h-1zM603 243h1v1h-1zM314 244h1v1h-1zM603 244h1v1h-1zM314 245h1v1h-1zM604 245h1v1h-1zM314 246h1v1h-1zM604 246h1v1h-1zM314 247h1v1h-1zM604 247h1v1h-1zM313 248h1v1h-1zM604 248h1v1h-1zM313 249h1v1h-1zM604 249h1v1h-1zM313 250h1v1h-1zM605 250h1v1h-1zM313 251h1v1h-1zM605 251h1v1h-1zM312 252h1v1h-1zM605 252h1v1h-1zM312 253h1v1h-1zM605 253h1v1h-1zM312 254h1v1h-1zM606 254h1v1h-1zM312 255h1v1h-1zM606 255h1v1h-1zM311 256h1v1h-1zM606 256h1v1h-1zM311 257h1v1h-1zM607 257h1v1h-1zM311 258h1v1h-1zM607 258h1v1h-1zM311 259h1v1h-1zM607 259h1v1h-1zM310 260h1v1h-1zM607 260h1v1h-1zM290 261h1v1h-1zM310 261h1v1h-1zM608 261h1v1h-1zM290 262h2v1h-2zM310 262h1v1h-1zM608 262h1v1h-1zM289 263h1v1h-1zM291 263h1v1h-1zM310 263h1v1h-1zM608 263h1v1h-1zM289 264h1v1h-1zM292 264h1v1h-1zM309 264h1v1h-1zM608 264h1v1h-1zM288 265h1v1h-1zM292 265h1v1h-1zM309 265h1v1h-1zM609 265h1v1h-1zM288 266h1v1h-1zM293 266h1v1h-1zM309 266h1v1h-1zM609 266h1v1h-1zM288 267h1v1h-1zM293 267h1v1h-1zM308 267h1v1h-1zM609 267h1v1h-1zM288 268h1v1h-1zM293 268h1v1h-1zM308 268h1v1h-1zM609 268h1v1h-1zM41 269h2v1h-2zM287 269h1v1h-1zM293 269h1v1h-1zM308 269h1v1h-1zM610 269h1v1h-1zM43 270h3v1h-3zM287 270h1v1h-1zM294 270h1v1h-1zM307 270h1v1h-1zM610 270h1v1h-1zM46 271h2v1h-2zM287 271h1v1h-1zM294 271h1v1h-1zM307 271h1v1h-1zM610 271h1v1h-1zM48 272h2v1h-2zM286 272h1v1h-1zM294 272h1v1h-1zM306 272h1v1h-1zM610 272h1v1h-1zM50 273h1v1h-1zM286 273h1v1h-1zM295 273h1v1h-1zM306 273h1v1h-1zM611 273h1v1h-1zM51 274h2v1h-2zM285 274h1v1h-1zM295 274h1v1h-1zM305 274h1v1h-1zM611 274h1v1h-1zM53 275h2v1h-2zM285 275h1v1h-1zM295 275h1v1h-1zM304 275h1v1h-1zM612 275h1v1h-1zM55 276h8v1h-8zM284 276h1v1h-1zM296 276h1v1h-1zM304 276h1v1h-1zM613 276h1v1h-1zM63 277h3v1h-3zM284 277h1v1h-1zM296 277h1v1h-1zM303 277h1v1h-1zM613 277h1v1h-1zM66 278h1v1h-1zM284 278h1v1h-1zM297 278h1v1h-1zM303 278h1v1h-1zM614 278h1v1h-1zM67 279h1v1h-1zM283 279h1v1h-1zM298 279h1v1h-1zM302 279h1v1h-1zM615 279h1v1h-1zM68 280h1v1h-1zM283 280h1v1h-1zM298 280h1v1h-1zM301 280h1v1h-1zM615 280h1v1h-1zM69 281h1v1h-1zM283 281h1v1h-1zM299 281h1v1h-1zM301 281h1v1h-1zM616 281h1v1h-1zM70 282h2v1h-2zM282 282h1v1h-1zM300 282h1v1h-1zM616 282h1v1h-1zM72 283h2v1h-2zM282 283h1v1h-1zM616 283h1v1h-1zM74 284h3v1h-3zM282 284h1v1h-1zM617 284h1v1h-1zM77 285h2v1h-2zM281 285h1v1h-1zM617 285h1v1h-1zM79 286h3v1h-3zM281 286h1v1h-1zM617 286h1v1h-1zM82 287h2v1h-2zM280 287h1v1h-1zM618 287h1v1h-1zM84 288h3v1h-3zM279 288h1v1h-1zM618 288h1v1h-1zM87 289h3v1h-3zM278 289h1v1h-1zM618 289h1v1h-1zM90 290h2v1h-2zM276 290h2v1h-2zM618 290h1v1h-1zM92 291h1v1h-1zM275 291h1v1h-1zM619 291h1v1h-1zM93 292h1v1h-1zM274 292h1v1h-1zM619 292h1v1h-1zM94 293h1v1h-1zM274 293h1v1h-1zM619 293h1v1h-1zM95 294h1v1h-1zM273 294h1v1h-1zM620 294h1v1h-1zM95 295h1v1h-1zM273 295h1v1h-1zM620 295h1v1h-1zM96 296h1v1h-1zM273 296h1v1h-1zM621 296h1v1h-1zM96 297h1v1h-1zM272 297h1v1h-1zM621 297h1v1h-1zM96 298h1v1h-1zM272 298h1v1h-1zM622 298h1v1h-1zM97 299h1v1h-1zM260 299h2v1h-2zM270 299h2v1h-2zM622 299h1v1h-1zM97 300h1v1h-1zM258 300h2v1h-2zM262 300h2v1h-2zM268 300h2v1h-2zM623 300h1v1h-1zM97 301h1v1h-1zM256 301h2v1h-2zM264 301h2v1h-2zM267 301h1v1h-1zM623 301h1v1h-1zM97 302h1v1h-1zM253 302h3v1h-3zM266 302h1v1h-1zM624 302h1v1h-1zM98 303h1v1h-1zM251 303h2v1h-2zM624 303h1v1h-1zM98 304h1v1h-1zM250 304h1v1h-1zM625 304h2v1h-2zM98 305h1v1h-1zM249 305h1v1h-1zM627 305h1v1h-1zM98 306h1v1h-1zM248 306h1v1h-1zM628 306h2v1h-2zM99 307h1v1h-1zM247 307h1v1h-1zM630 307h1v1h-1zM99 308h1v1h-1zM246 308h1v1h-1zM631 308h1v1h-1zM99 309h1v1h-1zM243 309h3v1h-3zM632 309h1v1h-1zM99 310h1v1h-1zM233 310h10v1h-10zM632 310h1v1h-1zM99 311h1v1h-1zM229 311h4v1h-4zM633 311h1v1h-1zM99 312h1v1h-1zM227 312h2v1h-2zM634 312h1v1h-1zM100 313h1v1h-1zM104 313h2v1h-2zM225 313h2v1h-2zM635 313h1v1h-1zM100 314h1v1h-1zM102 314h2v1h-2zM106 314h1v1h-1zM207 314h12v1h-12zM222 314h3v1h-3zM635 314h1v1h-1zM100 315h2v1h-2zM107 315h1v1h-1zM200 315h7v1h-7zM219 315h3v1h-3zM636 315h1v1h-1zM108 316h1v1h-1zM198 316h2v1h-2zM637 316h1v1h-1zM108 317h1v1h-1zM151 317h2v1h-2zM168 317h3v1h-3zM196 317h2v1h-2zM637 317h1v1h-1zM109 318h1v1h-1zM150 318h1v1h-1zM153 318h3v1h-3zM166 318h2v1h-2zM171 318h1v1h-1zM195 318h1v1h-1zM638 318h1v1h-1zM110 319h1v1h-1zM150 319h1v1h-1zM156 319h1v1h-1zM165 319h1v1h-1zM172 319h1v1h-1zM195 319h1v1h-1zM639 319h1v1h-1zM110 320h1v1h-1zM149 320h1v1h-1zM156 320h1v1h-1zM165 320h1v1h-1zM173 320h1v1h-1zM194 320h1v1h-1zM640 320h1v1h-1zM111 321h1v1h-1zM149 321h1v1h-1zM157 321h1v1h-1zM164 321h1v1h-1zM174 321h1v1h-1zM194 321h1v1h-1zM641 321h1v1h-1zM111 322h1v1h-1zM148 322h1v1h-1zM157 322h1v1h-1zM164 322h1v1h-1zM175 322h1v1h-1zM194 322h1v1h-1zM642 322h1v1h-1zM112 323h1v1h-1zM148 323h1v1h-1zM158 323h1v1h-1zM163 323h1v1h-1zM175 323h1v1h-1zM193 323h1v1h-1zM643 323h1v1h-1zM112 324h1v1h-1zM147 324h1v1h-1zM158 324h1v1h-1zM162 324h1v1h-1zM176 324h1v1h-1zM193 324h1v1h-1zM644 324h1v1h-1zM113 325h1v1h-1zM147 325h1v1h-1zM159 325h1v1h-1zM162 325h1v1h-1zM176 325h1v1h-1zM193 325h1v1h-1zM644 325h1v1h-1zM113 326h1v1h-1zM146 326h1v1h-1zM159 326h1v1h-1zM161 326h1v1h-1zM176 326h1v1h-1zM192 326h1v1h-1zM645 326h1v1h-1zM114 327h1v1h-1zM146 327h1v1h-1zM160 327h2v1h-2zM176 327h1v1h-1zM192 327h1v1h-1zM645 327h1v1h-1zM114 328h1v1h-1zM146 328h1v1h-1zM160 328h1v1h-1zM177 328h1v1h-1zM192 328h1v1h-1zM646 328h1v1h-1zM114 329h1v1h-1zM145 329h1v1h-1zM177 329h1v1h-1zM191 329h1v1h-1zM647 329h2v1h-2zM115 330h1v1h-1zM145 330h1v1h-1zM177 330h1v1h-1zM191 330h1v1h-1zM649 330h2v1h-2zM115 331h1v1h-1zM144 331h1v1h-1zM177 331h1v1h-1zM191 331h1v1h-1zM651 331h1v1h-1zM115 332h1v1h-1zM144 332h1v1h-1zM178 332h1v1h-1zM190 332h1v1h-1zM652 332h1v1h-1zM116 333h1v1h-1zM144 333h1v1h-1zM178 333h1v1h-1zM190 333h1v1h-1zM653 333h1v1h-1zM116 334h1v1h-1zM144 334h1v1h-1zM178 334h1v1h-1zM190 334h1v1h-1zM654 334h1v1h-1zM116 335h1v1h-1zM143 335h1v1h-1zM179 335h1v1h-1zM189 335h1v1h-1zM655 335h1v1h-1zM117 336h1v1h-1zM143 336h1v1h-1zM179 336h1v1h-1zM189 336h1v1h-1zM656 336h1v1h-1zM117 337h1v1h-1zM143 337h1v1h-1zM179 337h1v1h-1zM189 337h1v1h-1zM657 337h1v1h-1zM117 338h1v1h-1zM143 338h1v1h-1zM179 338h1v1h-1zM188 338h1v1h-1zM657 338h1v1h-1zM118 339h1v1h-1zM142 339h1v1h-1zM180 339h1v1h-1zM188 339h1v1h-1zM658 339h1v1h-1zM118 340h1v1h-1zM142 340h1v1h-1zM180 340h1v1h-1zM187 340h1v1h-1zM658 340h1v1h-1zM119 341h1v1h-1zM142 341h1v1h-1zM180 341h1v1h-1zM187 341h1v1h-1zM659 341h1v1h-1zM119 342h1v1h-1zM142 342h1v1h-1zM181 342h1v1h-1zM187 342h1v1h-1zM659 342h1v1h-1zM120 343h1v1h-1zM131 343h1v1h-1zM141 343h1v1h-1zM182 343h1v1h-1zM186 343h1v1h-1zM660 343h7v1h-7zM120 344h1v1h-1zM130 344h1v1h-1zM132 344h1v1h-1zM141 344h1v1h-1zM183 344h1v1h-1zM186 344h1v1h-1zM667 344h1v1h-1zM121 345h1v1h-1zM128 345h2v1h-2zM133 345h1v1h-1zM141 345h1v1h-1zM184 345h2v1h-2zM668 345h1v1h-1zM122 346h2v1h-2zM127 346h1v1h-1zM133 346h1v1h-1zM141 346h1v1h-1zM185 346h1v1h-1zM668 346h1v1h-1zM124 347h1v1h-1zM126 347h1v1h-1zM134 347h1v1h-1zM140 347h1v1h-1zM669 347h1v1h-1zM125 348h1v1h-1zM135 348h3v1h-3zM140 348h1v1h-1zM670 348h1v1h-1zM138 349h3v1h-3zM671 349h1v1h-1zM672 350h1v1h-1zM673 351h1v1h-1zM674 352h1v1h-1zM675 353h1v1h-1zM676 354h1v1h-1zM676 355h1v1h-1zM677 356h1v1h-1zM678 357h1v1h-1zM686 357h1v1h-1zM678 358h1v1h-1zM684 358h2v1h-2zM687 358h1v1h-1zM679 359h1v1h-1zM683 359h1v1h-1zM687 359h1v1h-1zM679 360h1v1h-1zM681 360h2v1h-2zM688 360h1v1h-1zM680 361h1v1h-1zM688 361h1v1h-1zM689 362h1v1h-1zM689 363h1v1h-1zM690 364h1v1h-1zM690 365h1v1h-1zM691 366h1v1h-1zM691 367h1v1h-1zM692 368h1v1h-1zM692 369h1v1h-1zM693 370h1v1h-1zM693 371h1v1h-1zM694 372h1v1h-1zM694 373h1v1h-1zM695 374h1v1h-1zM696 375h2v1h-2zM698 376h1v1h-1zM699 377h2v1h-2zM701 378h1v1h-1zM702 379h1v1h-1zM703 380h1v1h-1zM704 381h1v1h-1zM704 382h1v1h-1zM705 383h1v1h-1zM706 384h1v1h-1zM707 385h1v1h-1zM707 386h1v1h-1zM708 387h1v1h-1zM709 388h1v1h-1zM709 389h1v1h-1zM710 390h1v1h-1zM710 391h1v1h-1zM713 391h3v1h-3zM711 392h2v1h-2zM716 392h1v1h-1zM716 393h1v1h-1zM717 394h1v1h-1zM717 395h1v1h-1zM718 396h1v1h-1zM718 397h1v1h-1zM718 398h1v1h-1zM718 399h1v1h-1zM719 400h1v1h-1zM719 401h1v1h-1zM719 402h1v1h-1zM720 403h1v1h-1zM720 404h1v1h-1zM720 405h1v1h-1zM721 406h1v1h-1zM721 407h1v1h-1zM721 408h1v1h-1zM721 409h1v1h-1zM722 410h1v1h-1zM722 411h1v1h-1zM722 412h1v1h-1zM723 413h1v1h-1zM723 414h1v1h-1zM724 415h1v1h-1zM724 416h1v1h-1zM725 417h1v1h-1zM725 418h1v1h-1zM726 419h1v1h-1zM726 420h1v1h-1zM727 421h1v1h-1zM727 422h1v1h-1zM728 423h1v1h-1zM728 424h1v1h-1zM729 425h1v1h-1zM730 426h1v1h-1zM731 427h1v1h-1zM731 428h1v1h-1zM732 429h1v1h-1zM732 430h1v1h-1zM733 431h1v1h-1zM733 432h1v1h-1zM733 433h1v1h-1zM734 434h1v1h-1zM734 435h1v1h-1zM754 435h1v1h-1zM735 436h1v1h-1zM752 436h2v1h-2zM736 437h1v1h-1zM750 437h2v1h-2zM737 438h2v1h-2zM748 438h2v1h-2zM739 439h2v1h-2zM747 439h1v1h-1zM741 440h1v1h-1zM746 440h1v1h-1zM742 441h4v1h-4z"/>
<path id="lmin" fill="#00c000" d="M496 166h1v1h-1zM495 167h1v1h-1zM497 167h1v1h-1zM436 168h1v1h-1zM494 168h1v1h-1zM497 168h1v1h-1zM434 169h2v1h-2zM437 169h1v1h-1zM493 169h1v1h-1zM498 169h1v1h-1zM432 170h2v1h-2zM438 170h1v1h-1zM492 170h1v1h-1zM498 170h1v1h-1zM423 171h9v1h-9zM439 171h1v1h-1zM491 171h1v1h-1zM499 171h1v1h-1zM410 172h13v1h-13zM440 172h1v1h-1zM489 172h2v1h-2zM499 172h1v1h-1zM408 173h2v1h-2zM441 173h1v1h-1zM487 173h2v1h-2zM500 173h1v1h-1zM406 174h2v1h-2zM441 174h1v1h-1zM471 174h3v1h-3zM485 174h2v1h-2zM500 174h1v1h-1zM405 175h1v1h-1zM442 175h1v1h-1zM471 175h1v1h-1zM474 175h5v1h-5zM483 175h2v1h-2zM501 175h2v1h-2zM405 176h1v1h-1zM442 176h1v1h-1zM470 176h1v1h-1zM479 176h4v1h-4zM503 176h2v1h-2zM521 176h1v1h-1zM404 177h1v1h-1zM443 177h1v1h-1zM470 177h1v1h-1zM505 177h1v1h-1zM520 177h1v1h-1zM522 177h1v1h-1zM404 178h1v1h-1zM443 178h1v1h-1zM456 178h1v1h-1zM469 178h1v1h-1zM506 178h1v1h-1zM519 178h1v1h-1zM522 178h1v1h-1zM403 179h1v1h-1zM443 179h1v1h-1zM455 179h1v1h-1zM457 179h1v1h-1zM469 179h1v1h-1zM507 179h1v1h-1zM518 179h1v1h-1zM523 179h1v1h-1zM403 180h1v1h-1zM444 180h1v1h-1zM455 180h1v1h-1zM458 180h1v1h-1zM469 180h1v1h-1zM508 180h2v1h-2zM517 180h1v1h-1zM523 180h1v1h-1zM402 181h1v1h-1zM444 181h1v1h-1zM454 181h1v1h-1zM459 181h1v1h-1zM468 181h1v1h-1zM510 181h1v1h-1zM514 181h3v1h-3zM524 181h1v1h-1zM402 182h1v1h-1zM444 182h1v1h-1zM453 182h1v1h-1zM460 182h1v1h-1zM468 182h1v1h-1zM511 182h3v1h-3zM524 182h1v1h-1zM395 183h3v1h-3zM401 183h1v1h-1zM445 183h1v1h-1zM452 183h1v1h-1zM461 183h1v1h-1zM467 183h1v1h-1zM525 183h1v1h-1zM394 184h1v1h-1zM398 184h3v1h-3zM445 184h1v1h-1zM452 184h1v1h-1zM462 184h2v1h-2zM467 184h1v1h-1zM525 184h2v1h-2zM393 185h1v1h-1zM446 185h1v1h-1zM449 185h3v1h-3zM464 185h3v1h-3zM527 185h2v1h-2zM392 186h1v1h-1zM446 186h3v1h-3zM466 186h1v1h-1zM529 186h2v1h-2zM391 187h1v1h-1zM531 187h2v1h-2zM390 188h1v1h-1zM533 188h2v1h-2zM389 189h1v1h-1zM535 189h3v1h-3zM389 190h1v1h-1zM538 190h5v1h-5zM549 190h2v1h-2zM388 191h1v1h-1zM543 191h2v1h-2zM547 191h2v1h-2zM551 191h1v1h-1zM364 192h2v1h-2zM387 192h1v1h-1zM545 192h2v1h-2zM552 192h2v1h-2zM362 193h2v1h-2zM366 193h1v1h-1zM387 193h1v1h-1zM554 193h1v1h-1zM360 194h2v1h-2zM367 194h1v1h-1zM381 194h6v1h-6zM555 194h1v1h-1zM360 195h1v1h-1zM368 195h1v1h-1zM380 195h1v1h-1zM555 195h1v1h-1zM359 196h1v1h-1zM369 196h1v1h-1zM379 196h1v1h-1zM556 196h1v1h-1zM359 197h1v1h-1zM370 197h1v1h-1zM378 197h1v1h-1zM556 197h1v1h-1zM358 198h1v1h-1zM371 198h1v1h-1zM377 198h1v1h-1zM557 198h1v1h-1zM358 199h1v1h-1zM372 199h2v1h-2zM376 199h1v1h-1zM557 199h1v1h-1zM358 200h1v1h-1zM374 200h2v1h-2zM558 200h1v1h-1zM576 200h2v1h-2zM357 201h1v1h-1zM559 201h1v1h-1zM574 201h2v1h-2zM578 201h2v1h-2zM357 202h1v1h-1zM559 202h1v1h-1zM564 202h3v1h-3zM572 202h2v1h-2zM580 202h1v1h-1zM356 203h1v1h-1zM560 203h4v1h-4zM567 203h5v1h-5zM581 203h1v1h-1zM356 204h1v1h-1zM582 204h1v1h-1zM355 205h1v1h-1zM583 205h2v1h-2zM354 206h1v1h-1zM585 206h1v1h-1zM353 207h1v1h-1zM586 207h2v1h-2zM352 208h1v1h-1zM588 208h3v1h-3zM351 209h1v1h-1zM591 209h2v1h-2zM350 210h1v1h-1zM593 210h3v1h-3zM349 211h1v1h-1zM596 211h4v1h-4zM348 212h1v1h-1zM600 212h2v1h-2zM347 213h1v1h-1zM602 213h1v1h-1zM346 214h1v1h-1zM602 214h1v1h-1zM346 215h1v1h-1zM603 215h1v1h-1zM345 216h1v1h-1zM603 216h1v1h-1zM344 217h1v1h-1zM604 217h1v1h-1zM343 218h1v1h-1zM604 218h1v1h-1zM343 219h1v1h-1zM604 219h1v1h-1zM342 220h1v1h-1zM605 220h1v1h-1zM341 221h1v1h-1zM606 221h1v1h-1zM340 222h1v1h-1zM607 222h1v1h-1zM339 223h1v1h-1zM608 223h1v1h-1zM338 224h1v1h-1zM608 224h1v1h-1zM328 225h6v1h-6zM336 225h2v1h-2zM609 225h1v1h-1zM326 226h2v1h-2zM334 226h2v1h-2zM610 226h1v1h-1zM326 227h1v1h-1zM611 227h1v1h-1zM325 228h1v1h-1zM612 228h2v1h-2zM325 229h1v1h-1zM614 229h2v1h-2zM325 230h1v1h-1zM616 230h1v1h-1zM325 231h1v1h-1zM616 231h1v1h-1zM324 232h1v1h-1zM617 232h1v1h-1zM324 233h1v1h-1zM618 233h1v1h-1zM324 234h1v1h-1zM618 234h1v1h-1zM323 235h1v1h-1zM619 235h1v1h-1zM323 236h1v1h-1zM619 236h1v1h-1zM323 237h1v1h-1zM620 237h1v1h-1zM323 238h1v1h-1zM621 238h1v1h-1zM322 239h1v1h-1zM621 239h1v1h-1zM322 240h1v1h-1zM622 240h1v1h-1zM322 241h1v1h-1zM623 241h1v1h-1zM321 242h1v1h-1zM624 242h1v1h-1zM321 243h1v1h-1zM624 243h1v1h-1zM320 244h1v1h-1zM625 244h1v1h-1zM320 245h1v1h-1zM626 245h1v1h-1zM320 246h1v1h-1zM627 246h1v1h-1zM319 247h1v1h-1zM628 247h1v1h-1zM319 248h1v1h-1zM629 248h2v1h-2zM41 249h1v1h-1zM318 249h1v1h-1zM631 249h1v1h-1zM42 250h2v1h-2zM318 250h1v1h-1zM632 250h1v1h-1zM44 251h3v1h-3zM318 251h1v1h-1zM632 251h1v1h-1zM47 252h2v1h-2zM317 252h1v1h-1zM633 252h1v1h-1zM49 253h4v1h-4zM317 253h1v1h-1zM634 253h1v1h-1zM53 254h5v1h-5zM316 254h1v1h-1zM635 254h1v1h-1zM58 255h4v1h-4zM316 255h1v1h-1zM635 255h1v1h-1zM62 256h2v1h-2zM315 256h1v1h-1zM636 256h1v1h-1zM64 257h2v1h-2zM314 257h2v1h-2zM637 257h1v1h-1zM66 258h1v1h-1zM312 258h2v1h-2zM638 258h1v1h-1zM67 259h1v1h-1zM311 259h1v1h-1zM639 259h1v1h-1zM68 260h1v1h-1zM310 260h1v1h-1zM640 260h1v1h-1zM69 261h2v1h-2zM310 261h1v1h-1zM640 261h1v1h-1zM71 262h2v1h-2zM309 262h1v1h-1zM641 262h1v1h-1zM73 263h2v1h-2zM309 263h1v1h-1zM642 263h1v1h-1zM75 264h2v1h-2zM308 264h1v1h-1zM643 264h1v1h-1zM77 265h2v1h-2zM308 265h1v1h-1zM644 265h1v1h-1zM79 266h2v1h-2zM307 266h1v1h-1zM645 266h1v1h-1zM81 267h2v1h-2zM307 267h1v1h-1zM646 267h1v1h-1zM83 268h1v1h-1zM295 268h1v1h-1zM306 268h1v1h-1zM647 268h1v1h-1zM84 269h1v1h-1zM295 269h2v1h-2zM306 269h1v1h-1zM648 269h1v1h-1zM85 270h1v1h-1zM294 270h1v1h-1zM297 270h1v1h-1zM305 270h1v1h-1zM648 270h1v1h-1zM86 271h11v1h-11zM294 271h1v1h-1zM298 271h1v1h-1zM303 271h2v1h-2zM649 271h1v1h-1zM97 272h1v1h-1zM294 272h1v1h-1zM299 272h1v1h-1zM301 272h2v1h-2zM650 272h1v1h-1zM98 273h2v1h-2zM293 273h1v1h-1zM300 273h1v1h-1zM651 273h1v1h-1zM100 274h2v1h-2zM293 274h1v1h-1zM652 274h1v1h-1zM102 275h1v1h-1zM293 275h1v1h-1zM653 275h1v1h-1zM103 276h1v1h-1zM292 276h1v1h-1zM654 276h1v1h-1zM104 277h1v1h-1zM292 277h1v1h-1zM655 277h1v1h-1zM105 278h2v1h-2zM292 278h1v1h-1zM655 278h1v1h-1zM107 279h1v1h-1zM291 279h1v1h-1zM656 279h1v1h-1zM108 280h2v1h-2zM291 280h1v1h-1zM657 280h1v1h-1zM110 281h2v1h-2zM291 281h1v1h-1zM658 281h1v1h-1zM112 282h2v1h-2zM290 282h1v1h-1zM658 282h1v1h-1zM114 283h3v1h-3zM290 283h1v1h-1zM659 283h1v1h-1zM117 284h2v1h-2zM289 284h1v1h-1zM660 284h1v1h-1zM119 285h2v1h-2zM289 285h1v1h-1zM661 285h2v1h-2zM121 286h1v1h-1zM288 286h1v1h-1zM663 286h1v1h-1zM122 287h1v1h-1zM288 287h1v1h-1zM664 287h1v1h-1zM123 288h1v1h-1zM287 288h1v1h-1zM665 288h1v1h-1zM124 289h1v1h-1zM286 289h1v1h-1zM666 289h1v1h-1zM125 290h2v1h-2zM286 290h1v1h-1zM667 290h1v1h-1zM127 291h1v1h-1zM177 291h4v1h-4zM285 291h1v1h-1zM668 291h1v1h-1zM128 292h2v1h-2zM174 292h3v1h-3zM181 292h2v1h-2zM284 292h1v1h-1zM669 292h1v1h-1zM130 293h1v1h-1zM171 293h3v1h-3zM183 293h1v1h-1zM282 293h2v1h-2zM669 293h1v1h-1zM131 294h3v1h-3zM168 294h3v1h-3zM184 294h1v1h-1zM258 294h4v1h-4zM280 294h2v1h-2zM670 294h1v1h-1zM134 295h1v1h-1zM165 295h3v1h-3zM185 295h2v1h-2zM253 295h5v1h-5zM262 295h1v1h-1zM273 295h7v1h-7zM671 295h2v1h-2zM135 296h1v1h-1zM162 296h3v1h-3zM187 296h1v1h-1zM247 296h6v1h-6zM263 296h2v1h-2zM272 296h1v1h-1zM673 296h2v1h-2zM136 297h2v1h-2zM150 297h12v1h-12zM188 297h2v1h-2zM233 297h14v1h-14zM265 297h7v1h-7zM675 297h1v1h-1zM138 298h2v1h-2zM148 298h2v1h-2zM190 298h1v1h-1zM198 298h5v1h-5zM213 298h5v1h-5zM223 298h10v1h-10zM676 298h1v1h-1zM140 299h1v1h-1zM146 299h2v1h-2zM191 299h1v1h-1zM197 299h1v1h-1zM203 299h10v1h-10zM218 299h5v1h-5zM677 299h1v1h-1zM140 300h6v1h-6zM192 300h5v1h-5zM678 300h1v1h-1zM679 301h1v1h-1zM680 302h1v1h-1zM681 303h1v1h-1zM682 304h1v1h-1zM683 305h1v1h-1zM684 306h1v1h-1zM685 307h2v1h-2zM687 308h2v1h-2zM689 309h2v1h-2zM691 310h1v1h-1zM692 311h1v1h-1zM693 312h1v1h-1zM693 313h1v1h-1zM694 314h1v1h-1zM695 315h1v1h-1zM696 316h1v1h-1zM697 317h1v1h-1zM698 318h1v1h-1zM699 319h1v1h-1zM700 320h1v1h-1zM701 321h1v1h-1zM702 322h1v1h-1zM703 323h1v1h-1zM704 324h2v1h-2zM706 325h2v1h-2zM708 326h1v1h-1zM709 327h1v1h-1zM710 328h1v1h-1zM711 329h1v1h-1zM712 330h1v1h-1zM713 331h1v1h-1zM714 332h1v1h-1zM715 333h1v1h-1zM716 334h1v1h-1zM717 335h1v1h-1zM718 336h1v1h-1zM719 337h1v1h-1zM720 338h1v1h-1zM721 339h1v1h-1zM722 340h1v1h-1zM723 341h1v1h-1zM724 342h1v1h-1zM725 343h1v1h-1zM726 344h1v1h-1zM727 345h1v1h-1zM727 346h1v1h-1zM728 347h1v1h-1zM728 348h1v1h-1zM729 349h1v1h-1zM730 350h1v1h-1zM730 351h1v1h-1zM731 352h1v1h-1zM732 353h1v1h-1zM733 354h1v1h-1zM733 355h1v1h-1zM734 356h1v1h-1zM734 357h1v1h-1zM735 358h1v1h-1zM736 359h1v1h-1zM736 360h1v1h-1zM737 361h1v1h-1zM737 362h1v1h-1zM738 363h1v1h-1zM738 364h1v1h-1zM739 365h1v1h-1zM739 366h1v1h-1zM740 367h1v1h-1zM740 368h2v1h-2zM742 369h3v1h-3zM745 370h2v1h-2zM747 371h1v1h-1zM748 372h1v1h-1zM749 373h1v1h-1zM750 374h3v1h-3zM753 375h2v1h-2z"/>
<path id="lmax" fill="#c80000" d="M431 154h1v1h-1zM430 155h1v1h-1zM432 155h1v1h-1zM430 156h1v1h-1zM433 156h2v1h-2zM429 157h1v1h-1zM435 157h1v1h-1zM428 158h1v1h-1zM436 158h1v1h-1zM428 159h1v1h-1zM436 159h1v1h-1zM486 159h7v1h-7zM427 160h1v1h-1zM437 160h1v1h-1zM485 160h1v1h-1zM493 160h5v1h-5zM426 161h1v1h-1zM437 161h1v1h-1zM471 161h1v1h-1zM485 161h1v1h-1zM498 161h3v1h-3zM411 162h1v1h-1zM426 162h1v1h-1zM438 162h1v1h-1zM471 162h2v1h-2zM484 162h1v1h-1zM501 162h1v1h-1zM410 163h1v1h-1zM412 163h2v1h-2zM424 163h2v1h-2zM438 163h1v1h-1zM470 163h1v1h-1zM472 163h1v1h-1zM484 163h1v1h-1zM501 163h1v1h-1zM409 164h1v1h-1zM414 164h4v1h-4zM422 164h2v1h-2zM439 164h1v1h-1zM470 164h1v1h-1zM473 164h1v1h-1zM483 164h1v1h-1zM502 164h1v1h-1zM408 165h1v1h-1zM418 165h4v1h-4zM439 165h1v1h-1zM469 165h1v1h-1zM474 165h1v1h-1zM482 165h1v1h-1zM503 165h1v1h-1zM408 166h1v1h-1zM440 166h1v1h-1zM469 166h1v1h-1zM475 166h1v1h-1zM482 166h1v1h-1zM504 166h1v1h-1zM407 167h1v1h-1zM441 167h2v1h-2zM456 167h1v1h-1zM468 167h1v1h-1zM475 167h1v1h-1zM479 167h3v1h-3zM504 167h1v1h-1zM406 168h1v1h-1zM443 168h2v1h-2zM455 168h1v1h-1zM457 168h1v1h-1zM468 168h1v1h-1zM476 168h3v1h-3zM505 168h1v1h-1zM518 168h3v1h-3zM405 169h1v1h-1zM445 169h1v1h-1zM455 169h1v1h-1zM457 169h1v1h-1zM467 169h1v1h-1zM506 169h1v1h-1zM515 169h3v1h-3zM521 169h2v1h-2zM404 170h1v1h-1zM446 170h1v1h-1zM454 170h1v1h-1zM458 170h1v1h-1zM467 170h1v1h-1zM506 170h1v1h-1zM514 170h1v1h-1zM523 170h2v1h-2zM403 171h1v1h-1zM446 171h1v1h-1zM454 171h1v1h-1zM459 171h1v1h-1zM466 171h1v1h-1zM507 171h1v1h-1zM513 171h1v1h-1zM525 171h1v1h-1zM403 172h1v1h-1zM447 172h1v1h-1zM453 172h1v1h-1zM459 172h1v1h-1zM466 172h1v1h-1zM508 172h1v1h-1zM513 172h1v1h-1zM526 172h1v1h-1zM402 173h1v1h-1zM447 173h1v1h-1zM453 173h1v1h-1zM460 173h1v1h-1zM464 173h2v1h-2zM509 173h1v1h-1zM512 173h1v1h-1zM526 173h1v1h-1zM401 174h1v1h-1zM448 174h1v1h-1zM452 174h1v1h-1zM460 174h1v1h-1zM462 174h2v1h-2zM509 174h1v1h-1zM511 174h1v1h-1zM527 174h1v1h-1zM395 175h6v1h-6zM448 175h1v1h-1zM452 175h1v1h-1zM461 175h1v1h-1zM510 175h1v1h-1zM528 175h1v1h-1zM394 176h1v1h-1zM449 176h1v1h-1zM451 176h1v1h-1zM528 176h1v1h-1zM392 177h2v1h-2zM449 177h1v1h-1zM451 177h1v1h-1zM529 177h1v1h-1zM369 178h2v1h-2zM391 178h1v1h-1zM450 178h1v1h-1zM530 178h1v1h-1zM367 179h2v1h-2zM370 179h1v1h-1zM390 179h1v1h-1zM531 179h1v1h-1zM365 180h2v1h-2zM371 180h1v1h-1zM389 180h1v1h-1zM532 180h1v1h-1zM540 180h2v1h-2zM364 181h1v1h-1zM371 181h1v1h-1zM389 181h1v1h-1zM533 181h1v1h-1zM538 181h2v1h-2zM542 181h1v1h-1zM364 182h1v1h-1zM371 182h1v1h-1zM388 182h1v1h-1zM534 182h1v1h-1zM536 182h2v1h-2zM542 182h1v1h-1zM363 183h1v1h-1zM372 183h1v1h-1zM388 183h1v1h-1zM535 183h1v1h-1zM543 183h1v1h-1zM362 184h1v1h-1zM372 184h1v1h-1zM387 184h1v1h-1zM544 184h1v1h-1zM361 185h1v1h-1zM372 185h1v1h-1zM387 185h1v1h-1zM545 185h1v1h-1zM361 186h1v1h-1zM373 186h1v1h-1zM380 186h7v1h-7zM545 186h1v1h-1zM360 187h1v1h-1zM373 187h1v1h-1zM379 187h1v1h-1zM546 187h7v1h-7zM359 188h1v1h-1zM373 188h1v1h-1zM379 188h1v1h-1zM553 188h3v1h-3zM358 189h1v1h-1zM373 189h1v1h-1zM378 189h1v1h-1zM556 189h1v1h-1zM357 190h1v1h-1zM374 190h1v1h-1zM378 190h1v1h-1zM556 190h1v1h-1zM356 191h1v1h-1zM374 191h1v1h-1zM377 191h1v1h-1zM557 191h1v1h-1zM565 191h1v1h-1zM355 192h1v1h-1zM374 192h1v1h-1zM376 192h1v1h-1zM558 192h1v1h-1zM564 192h1v1h-1zM566 192h1v1h-1zM354 193h1v1h-1zM375 193h2v1h-2zM559 193h1v1h-1zM563 193h1v1h-1zM567 193h1v1h-1zM354 194h1v1h-1zM375 194h1v1h-1zM559 194h1v1h-1zM561 194h2v1h-2zM568 194h1v1h-1zM353 195h1v1h-1zM560 195h1v1h-1zM569 195h1v1h-1zM352 196h1v1h-1zM569 196h1v1h-1zM351 197h1v1h-1zM570 197h8v1h-8zM351 198h1v1h-1zM578 198h2v1h-2zM350 199h1v1h-1zM580 199h2v1h-2zM349 200h1v1h-1zM582 200h1v1h-1zM348 201h1v1h-1zM583 201h2v1h-2zM348 202h1v1h-1zM585 202h2v1h-2zM347 203h1v1h-1zM587 203h3v1h-3zM347 204h1v1h-1zM590 204h2v1h-2zM346 205h1v1h-1zM592 205h1v1h-1zM345 206h1v1h-1zM593 206h1v1h-1zM345 207h1v1h-1zM594 207h1v1h-1zM344 208h1v1h-1zM595 208h1v1h-1zM343 209h1v1h-1zM596 209h2v1h-2zM342 210h1v1h-1zM598 210h4v1h-4zM341 211h1v1h-1zM602 211h2v1h-2zM340 212h1v1h-1zM604 212h1v1h-1zM339 213h1v1h-1zM605 213h2v1h-2zM339 214h1v1h-1zM607 214h1v1h-1zM338 215h1v1h-1zM607 215h1v1h-1zM337 216h1v1h-1zM608 216h1v1h-1zM326 217h1v1h-1zM335 217h2v1h-2zM608 217h1v1h-1zM325 218h1v1h-1zM327 218h1v1h-1zM332 218h3v1h-3zM609 218h1v1h-1zM325 219h1v1h-1zM328 219h4v1h-4zM609 219h1v1h-1zM324 220h1v1h-1zM610 220h1v1h-1zM324 221h1v1h-1zM610 221h1v1h-1zM323 222h1v1h-1zM611 222h1v1h-1zM323 223h1v1h-1zM612 223h1v1h-1zM322 224h1v1h-1zM613 224h2v1h-2zM322 225h1v1h-1zM615 225h1v1h-1zM321 226h1v1h-1zM616 226h2v1h-2zM321 227h1v1h-1zM618 227h1v1h-1zM321 228h1v1h-1zM619 228h1v1h-1zM320 229h1v1h-1zM620 229h1v1h-1zM320 230h1v1h-1zM621 230h1v1h-1zM320 231h1v1h-1zM622 231h1v1h-1zM319 232h1v1h-1zM622 232h1v1h-1zM319 233h1v1h-1zM623 233h1v1h-1zM319 234h1v1h-1zM623 234h1v1h-1zM318 235h1v1h-1zM624 235h1v1h-1zM318 236h1v1h-1zM624 236h1v1h-1zM318 237h1v1h-1zM624 237h1v1h-1zM317 238h1v1h-1zM625 238h2v1h-2zM317 239h1v1h-1zM627 239h1v1h-1zM317 240h1v1h-1zM628 240h1v1h-1zM316 241h1v1h-1zM628 241h1v1h-1zM316 242h1v1h-1zM629 242h1v1h-1zM316 243h1v1h-1zM629 243h1v1h-1zM315 244h1v1h-1zM630 244h1v1h-1zM315 245h1v1h-1zM630 245h1v1h-1zM314 246h1v1h-1zM631 246h2v1h-2zM41 247h2v1h-2zM314 247h1v1h-1zM633 247h3v1h-3zM43 248h4v1h-4zM313 248h1v1h-1zM636 248h1v1h-1zM47 249h2v1h-2zM313 249h1v1h-1zM636 249h1v1h-1zM49 250h3v1h-3zM312 250h1v1h-1zM637 250h1v1h-1zM52 251h2v1h-2zM312 251h1v1h-1zM638 251h1v1h-1zM54 252h8v1h-8zM311 252h1v1h-1zM638 252h1v1h-1zM62 253h2v1h-2zM311 253h1v1h-1zM639 253h1v1h-1zM64 254h2v1h-2zM310 254h1v1h-1zM639 254h1v1h-1zM66 255h2v1h-2zM309 255h1v1h-1zM640 255h1v1h-1zM68 256h2v1h-2zM307 256h2v1h-2zM641 256h1v1h-1zM70 257h1v1h-1zM305 257h2v1h-2zM642 257h1v1h-1zM71 258h1v1h-1zM304 258h1v1h-1zM643 258h1v1h-1zM72 259h2v1h-2zM303 259h1v1h-1zM644 259h1v1h-1zM74 260h1v1h-1zM295 260h1v1h-1zM303 260h1v1h-1zM645 260h1v1h-1zM75 261h2v1h-2zM294 261h1v1h-1zM296 261h2v1h-2zM302 261h1v1h-1zM646 261h1v1h-1zM77 262h2v1h-2zM294 262h1v1h-1zM298 262h2v1h-2zM301 262h1v1h-1zM647 262h1v1h-1zM79 263h2v1h-2zM293 263h1v1h-1zM300 263h1v1h-1zM648 263h1v1h-1zM81 264h1v1h-1zM292 264h1v1h-1zM648 264h1v1h-1zM82 265h2v1h-2zM292 265h1v1h-1zM649 265h1v1h-1zM84 266h1v1h-1zM291 266h1v1h-1zM650 266h1v1h-1zM85 267h2v1h-2zM291 267h1v1h-1zM651 267h1v1h-1zM87 268h2v1h-2zM291 268h1v1h-1zM652 268h1v1h-1zM89 269h8v1h-8zM290 269h1v1h-1zM653 269h1v1h-1zM97 270h4v1h-4zM290 270h1v1h-1zM654 270h1v1h-1zM101 271h2v1h-2zM290 271h1v1h-1zM655 271h1v1h-1zM103 272h2v1h-2zM289 272h1v1h-1zM656 272h1v1h-1zM105 273h2v1h-2zM289 273h1v1h-1zM657 273h1v1h-1zM107 274h1v1h-1zM288 274h1v1h-1zM658 274h1v1h-1zM108 275h1v1h-1zM288 275h1v1h-1zM659 275h1v1h-1zM109 276h1v1h-1zM288 276h1v1h-1zM660 276h1v1h-1zM110 277h2v1h-2zM287 277h1v1h-1zM660 277h1v1h-1zM112 278h1v1h-1zM287 278h1v1h-1zM661 278h1v1h-1zM113 279h2v1h-2zM286 279h1v1h-1zM661 279h1v1h-1zM115 280h2v1h-2zM286 280h1v1h-1zM662 280h1v1h-1zM117 281h2v1h-2zM285 281h1v1h-1zM663 281h1v1h-1zM119 282h2v1h-2zM285 282h1v1h-1zM664 282h1v1h-1zM121 283h2v1h-2zM284 283h1v1h-1zM665 283h1v1h-1zM123 284h1v1h-1zM284 284h1v1h-1zM665 284h1v1h-1zM124 285h2v1h-2zM283 285h1v1h-1zM666 285h1v1h-1zM126 286h1v1h-1zM283 286h1v1h-1zM667 286h1v1h-1zM127 287h1v1h-1zM282 287h1v1h-1zM668 287h2v1h-2zM128 288h1v1h-1zM282 288h1v1h-1zM670 288h1v1h-1zM129 289h1v1h-1zM175 289h5v1h-5zM281 289h1v1h-1zM671 289h1v1h-1zM130 290h1v1h-1zM172 290h3v1h-3zM180 290h2v1h-2zM281 290h1v1h-1zM672 290h1v1h-1zM131 291h2v1h-2zM169 291h3v1h-3zM182 291h2v1h-2zM280 291h1v1h-1zM673 291h1v1h-1zM133 292h3v1h-3zM166 292h3v1h-3zM184 292h2v1h-2zM280 292h1v1h-1zM674 292h1v1h-1zM136 293h2v1h-2zM164 293h2v1h-2zM186 293h1v1h-1zM253 293h10v1h-10zM276 293h4v1h-4zM675 293h1v1h-1zM138 294h2v1h-2zM162 294h2v1h-2zM187 294h1v1h-1zM247 294h6v1h-6zM263 294h13v1h-13zM675 294h1v1h-1zM140 295h2v1h-2zM149 295h13v1h-13zM188 295h1v1h-1zM247 295h1v1h-1zM676 295h1v1h-1zM142 296h3v1h-3zM147 296h2v1h-2zM189 296h1v1h-1zM228 296h19v1h-19zM677 296h2v1h-2zM145 297h2v1h-2zM190 297h2v1h-2zM197 297h31v1h-31zM679 297h1v1h-1zM192 298h1v1h-1zM196 298h1v1h-1zM680 298h1v1h-1zM193 299h3v1h-3zM681 299h1v1h-1zM682 300h2v1h-2zM684 301h1v1h-1zM685 302h1v1h-1zM686 303h1v1h-1zM687 304h1v1h-1zM688 305h1v1h-1zM689 306h2v1h-2zM691 307h2v1h-2zM693 308h3v1h-3zM696 309h1v1h-1zM696 310h1v1h-1zM697 311h1v1h-1zM698 312h1v1h-1zM698 313h1v1h-1zM699 314h1v1h-1zM700 315h1v1h-1zM701 316h1v1h-1zM702 317h1v1h-1zM703 318h2v1h-2zM705 319h1v1h-1zM706 320h1v1h-1zM707 321h1v1h-1zM708 322h2v1h-2zM710 323h1v1h-1zM711 324h1v1h-1zM712 325h1v1h-1zM712 326h1v1h-1zM713 327h1v1h-1zM714 328h1v1h-1zM715 329h1v1h-1zM716 330h2v1h-2zM718 331h2v1h-2zM720 332h1v1h-1zM720 333h1v1h-1zM721 334h1v1h-1zM722 335h1v1h-1zM723 336h1v1h-1zM724 337h1v1h-1zM725 338h1v1h-1zM726 339h1v1h-1zM727 340h2v1h-2zM729 341h2v1h-2zM730 342h1v1h-1zM731 343h1v1h-1zM731 344h1v1h-1zM732 345h1v1h-1zM732 346h1v1h-1zM733 347h1v1h-1zM733 348h1v1h-1zM734 349h1v1h-1zM734 350h1v1h-1zM735 351h1v1h-1zM736 352h1v1h-1zM736 353h1v1h-1zM737 354h1v1h-1zM737 355h1v1h-1zM738 356h1v1h-1zM739 357h1v1h-1zM739 358h1v1h-1zM740 359h1v1h-1zM740 360h1v1h-1zM741 361h1v1h-1zM742 362h1v1h-1zM743 363h1v1h-1zM743 364h1v1h-1zM744 365h1v1h-1zM744 366h1v1h-1zM745 367h1v1h-1zM745 368h5v1h-5zM750 369h2v1h-2zM752 370h2v1h-2zM754 371h1v1h-1z"/>
</g>
</svg>
</body></html>
